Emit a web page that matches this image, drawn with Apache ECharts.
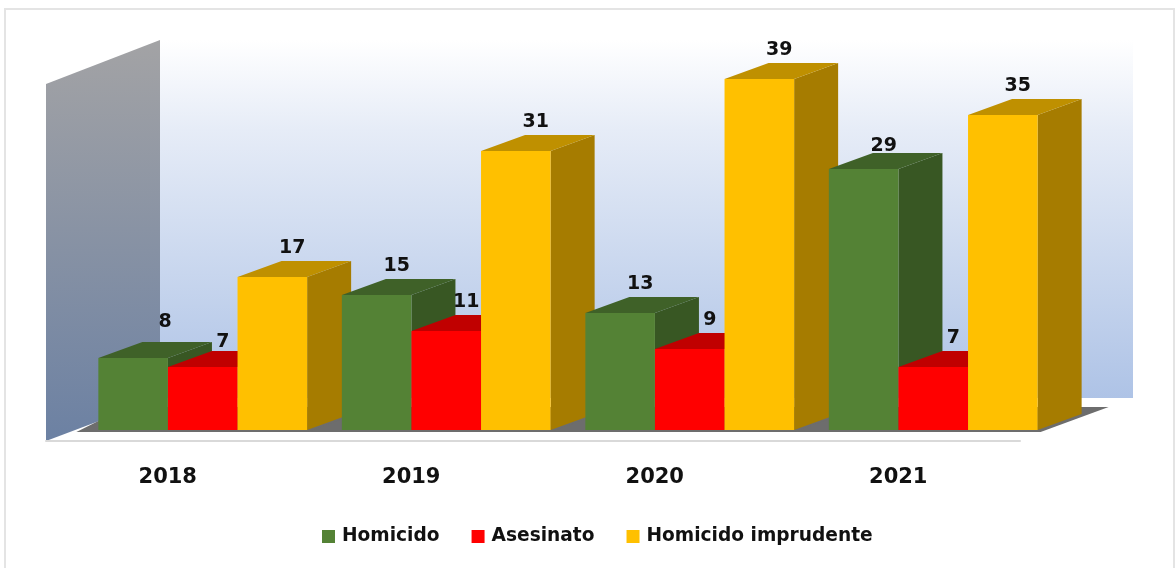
<!DOCTYPE html>
<html><head><meta charset="utf-8">
<style>html,body{margin:0;padding:0;background:#fff}#c{width:1176px;height:568px}</style>
<script src="https://cdn.jsdelivr.net/npm/echarts@6/dist/echarts.min.js"></script>
</head><body><div id="c"></div>
<script>
const years = ['2018','2019','2020','2021'];
const homicido = [8,15,13,29];
const asesinato = [7,11,9,7];
const imprudente = [17,31,39,35];

const FONT = '"DejaVu Sans", sans-serif';
const faces = [
  {name:'Homicido', front:'#548235', side:'#385723', top:'#3f6128'},
  {name:'Asesinato', front:'#ff0000', side:'#c00000', top:'#c00000'},
  {name:'Homicido imprudente', front:'#ffc000', side:'#a67c00', top:'#bf9000'}
];
const depthX = 44, depthY = 16;
// small hand nudges [series][category] for value labels
const nudge = {'0-0':[12,-7],'1-0':[0,4],'0-3':[0,6],'2-3':[-5,0]};

function render(sIdx){
  return function(params, api){
    const cat = api.value(0), val = api.value(1);
    const base = api.coord([cat,0]), top = api.coord([cat,val]);
    const band = api.size([1,0])[0];
    const w = band*0.2858;
    const groupLeft = base[0]-w*1.5+band*0.1437;
    const x0 = groupLeft + w*sIdx, x1 = x0+w;
    const yb = base[1], yt = top[1];
    const z = cat*10+sIdx*2+1;
    const children = [];
    if(sIdx===0){
      const gr = groupLeft+w*3;
      const tail = cat===0
        ? [[groupLeft-22,yb+2],[groupLeft,yb-9]]
        : [[groupLeft-34,yb+2],[groupLeft+13,yb-16]];
      children.push({type:'polygon',silent:true,z2:0,
        shape:{points:[tail[0],[gr+3,yb+2],[gr+71,yb-23],[gr+30,yb-23],[groupLeft+40,yb-23],tail[1]]},
        style:{fill:'#6d6d6d'}});
    }
    children.push(
      {type:'polygon',silent:true,z2:z,shape:{points:[[x1,yb],[x1+depthX,yb-depthY],[x1+depthX,yt-depthY],[x1,yt]]},style:{fill:faces[sIdx].side}},
      {type:'polygon',silent:true,z2:z,shape:{points:[[x0,yt],[x0+depthX,yt-depthY],[x1+depthX,yt-depthY],[x1,yt]]},style:{fill:faces[sIdx].top}},
      {type:'rect',silent:true,z2:z+1,shape:{x:x0,y:yt,width:w,height:yb-yt},style:{fill:faces[sIdx].front}}
    );
    const n = nudge[sIdx+'-'+cat]||[0,0];
    children.push({type:'text',silent:true,z2:1000,style:{
      text:String(val),x:(x0+x1)/2+20+n[0],y:yt-29+n[1],
      font:'bold 19px '+FONT,fill:'#111111',textAlign:'center',textVerticalAlign:'middle'}});
    return {type:'group',children};
  };
}
const values = [homicido,asesinato,imprudente];
const chart = echarts.init(document.getElementById('c'),null,{renderer:'canvas'});
chart.setOption({
  animation:false,
  backgroundColor:'#fff',
  grid:{left:46,width:974,top:70,height:360},
  xAxis:{type:'category',data:years,offset:11,
    axisTick:{show:false},
    axisLine:{show:true,onZero:false,lineStyle:{color:'#d9d9d9',width:2}},
    axisLabel:{margin:26,fontFamily:'DejaVu Sans',fontWeight:'bold',fontSize:21,color:'#111111'}},
  yAxis:{type:'value',min:0,max:40,show:false,splitLine:{show:false}},
  legend:{left:317,top:522,itemWidth:13,itemHeight:13,itemGap:32,icon:'rect',
    data:faces.map(f=>f.name),
    textStyle:{fontFamily:'DejaVu Sans',fontWeight:'bold',fontSize:18.6,color:'#111111',padding:[0,0,0,2]}},
  graphic:[
    {type:'rect',z:-10,silent:true,shape:{x:5,y:9,width:1169,height:570},style:{fill:'#fff',stroke:'#e4e4e4',lineWidth:2}},
    {type:'rect',z:-9,silent:true,shape:{x:160,y:40,width:973,height:358},
      style:{fill:new echarts.graphic.LinearGradient(0,0,0,1,[{offset:0,color:'#ffffff'},{offset:.25,color:'#e6ecf7'},{offset:1,color:'#aec3e6'}])}},
    {type:'polygon',z:-8,silent:true,shape:{points:[[46,84],[160,40],[160,398],[46,441]]},
      style:{fill:new echarts.graphic.LinearGradient(0,0,0,1,[{offset:0,color:'#a3a3a5'},{offset:1,color:'#6c81a3'}])}}
  ],
  series:values.map((vals,s)=>({
    type:'custom',name:faces[s].name,
    itemStyle:{color:faces[s].front},
    coordinateSystem:'cartesian2d',
    encode:{x:0,y:1},
    data:vals.map((v,i)=>[i,v]),
    renderItem:render(s)
  }))
});
</script></body></html>
